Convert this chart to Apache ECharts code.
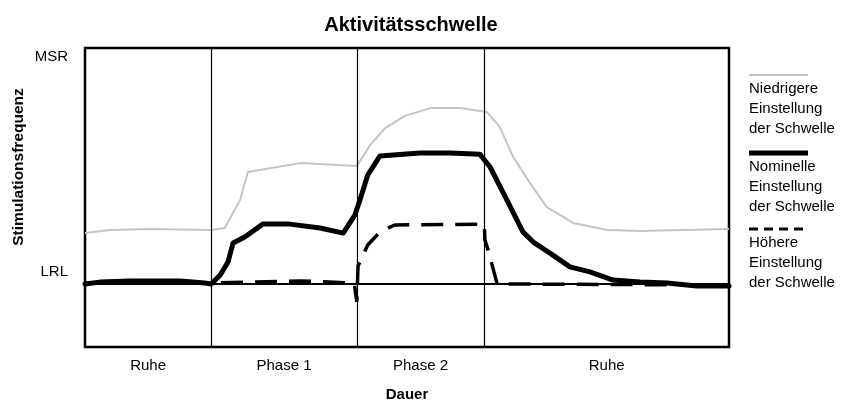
<!DOCTYPE html>
<html>
<head>
<meta charset="utf-8">
<script src="https://cdn.jsdelivr.net/npm/echarts@6/dist/echarts.min.js"></script>
<style>
  html, body { margin: 0; padding: 0; background: #fff; }
  #chart { width: 843px; height: 400px; }
</style>
</head>
<body>
<div id="chart"></div>
<script>
// Labels
const chartTitle = 'Aktivitätsschwelle';
const xAxisName = 'Dauer';
const yAxisName = 'Stimulationsfrequenz';
const phaseNames = ['Ruhe', 'Phase 1', 'Phase 2', 'Ruhe'];
const phaseBounds = [0, 19.6, 42.2, 62.0, 100];   // duration axis, 0..100
const rateLabels = ['LRL', 'MSR'];
const rateLabelValues = [25.0, 97.0];               // rate axis, 0..100
const lrlLevel = 21;

const legendNames = [
  'Niedrigere\nEinstellung\nder Schwelle',
  'Nominelle\nEinstellung\nder Schwelle',
  'Höhere\nEinstellung\nder Schwelle'
];

// Pacing rate over time: [duration, rate]
const lowSetting = [
  [0, 38.1], [3.9, 39.1], [10.1, 39.5], [19.6, 39.1], [21.7, 39.8], [24.1, 49.2],
  [25.3, 58.5], [33.4, 61.5], [42.2, 60.5], [44.3, 67.6], [46.6, 73.2], [49.7, 77.3],
  [53.6, 79.9], [58.2, 79.9], [62.4, 78.6], [64.4, 73.6], [66.5, 63.5], [69.1, 54.8],
  [71.7, 46.8], [75.8, 41.5], [81.1, 39.1], [86.2, 38.8], [100, 39.5]
];

const nominalSetting = [
  [0, 21.1], [2.3, 21.7], [7.0, 22.1], [14.8, 22.1], [18.6, 21.4], [19.6, 21.1],
  [21.0, 24.1], [22.2, 28.4], [23.0, 34.8], [24.8, 36.8], [27.6, 41.1], [31.8, 41.1],
  [36.5, 39.8], [40.1, 38.1], [41.9, 44.1], [42.7, 49.2], [43.9, 57.5], [45.8, 63.9],
  [52.0, 64.9], [56.7, 64.9], [61.3, 64.5], [62.9, 60.2], [65.5, 49.2], [68.0, 38.5],
  [69.6, 35.1], [72.2, 31.4], [75.3, 26.8], [78.4, 25.1], [82.0, 22.4], [86.2, 21.7],
  [90.4, 21.4], [95.0, 20.4], [100, 20.4]
];

const highSetting = [
  [0, 21.4], [19.6, 21.4], [24.8, 21.7], [33.4, 22.1], [41.8, 21.4], [42.2, 15.1],
  [42.4, 27.1], [43.9, 34.1], [45.8, 38.5], [48.1, 40.8], [62.0, 41.1], [62.1, 35.8],
  [62.6, 32.4], [64.0, 21.1], [100, 20.7]
];

const phaseMids = phaseNames.map((_, i) => (phaseBounds[i] + phaseBounds[i + 1]) / 2);
const font = '"Liberation Sans", Arial, Helvetica, sans-serif';

const chart = echarts.init(document.getElementById('chart'), null, { renderer: 'canvas' });

// Legend drawn as a stacked key: line sample above a three-line caption
const keyX = 749, keyW = 59;
const keyRows = [
  { text: legendNames[0], lineY: 75, style: { stroke: '#c4c4c4', lineWidth: 2 } },
  { text: legendNames[1], lineY: 153, style: { stroke: '#000', lineWidth: 5 } },
  { text: legendNames[2], lineY: 229, style: { stroke: '#000', lineWidth: 3, lineDash: [9, 6] } }
];
const legendGraphics = [];
keyRows.forEach(r => {
  legendGraphics.push({
    type: 'line', silent: true,
    shape: { x1: keyX, y1: r.lineY, x2: keyX + keyW, y2: r.lineY },
    style: r.style
  });
  legendGraphics.push({
    type: 'text', silent: true, x: keyX, y: r.lineY + 4,
    style: { text: r.text, fill: '#000', fontSize: 15, fontFamily: font, lineHeight: 20, verticalAlign: 'top', align: 'left' }
  });
});

const option = {
  animation: false,
  backgroundColor: '#fff',
  title: {
    text: chartTitle,
    left: 406, top: 10, textAlign: 'center',
    textStyle: { fontSize: 20, fontWeight: 'bold', fontFamily: font, color: '#000' }
  },
  grid: {
    left: 85, right: 114, top: 48, bottom: 53,
    outerBoundsMode: 'none', containLabel: false,
    show: true, borderColor: '#000', borderWidth: 2.5, backgroundColor: 'transparent'
  },
  xAxis: {
    type: 'value', min: 0, max: 100,
    name: xAxisName, nameLocation: 'middle', nameGap: 40,
    nameTextStyle: { fontSize: 15, fontWeight: 'bold', fontFamily: font, color: '#000' },
    axisLine: { show: false }, axisTick: { show: false }, splitLine: { show: false },
    axisLabel: {
      customValues: phaseMids,
      margin: 11, fontSize: 15, fontFamily: font, color: '#000',
      formatter: v => {
        let best = 0;
        phaseMids.forEach((m, i) => { if (Math.abs(m - v) < Math.abs(phaseMids[best] - v)) best = i; });
        return phaseNames[best];
      }
    }
  },
  yAxis: {
    type: 'value', min: 0, max: 100,
    axisLine: { show: false }, axisTick: { show: false }, splitLine: { show: false },
    axisLabel: {
      customValues: rateLabelValues,
      margin: 17, fontSize: 15, fontFamily: font, color: '#000',
      formatter: v => {
        let best = 0;
        rateLabelValues.forEach((m, i) => { if (Math.abs(m - v) < Math.abs(rateLabelValues[best] - v)) best = i; });
        return rateLabels[best];
      }
    }
  },
  graphic: [
    {
      type: 'text', silent: true, x: 19, y: 167, rotation: Math.PI / 2,
      style: { text: yAxisName, fill: '#000', fontSize: 15.5, fontWeight: 'bold', fontFamily: font, align: 'center', verticalAlign: 'middle' }
    },
    ...legendGraphics
  ],
  series: [
    {
      // phase dividers and the lower rate limit line
      type: 'line', data: [], silent: true, z: 1,
      markLine: {
        silent: true, symbol: 'none', animation: false,
        label: { show: false },
        data: [
          ...phaseBounds.slice(1, -1).map(b => ({ xAxis: b, lineStyle: { color: '#000', width: 1.2, type: 'solid' } })),
          { yAxis: lrlLevel, lineStyle: { color: '#000', width: 2, type: 'solid' } }
        ]
      }
    },
    {
      name: legendNames[0], type: 'line', data: lowSetting, z: 2,
      showSymbol: false, symbol: 'none',
      lineStyle: { color: '#c4c4c4', width: 2, join: 'round' }
    },
    {
      name: legendNames[1], type: 'line', data: nominalSetting, z: 3,
      showSymbol: false, symbol: 'none',
      lineStyle: { color: '#000', width: 5, join: 'round', cap: 'round' }
    },
    {
      name: legendNames[2], type: 'line', data: highSetting, z: 4,
      showSymbol: false, symbol: 'none',
      lineStyle: { color: '#000', width: 3.5, type: [22, 12] }
    }
  ]
};

chart.setOption(option);
</script>
</body>
</html>
